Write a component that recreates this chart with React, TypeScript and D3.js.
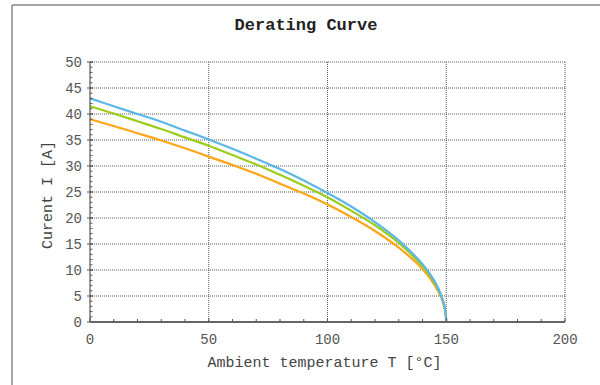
import * as d3 from 'd3';

const TEMPS = [0, 10, 20, 30, 40, 50, 60, 70, 80, 90, 100, 110, 120, 130, 140, 145, 148, 149.5, 150];
const BLUE = [43, 41.5, 40.0, 38.5, 36.8, 35.1, 33.3, 31.4, 29.4, 27.2, 24.8, 22.2, 19.2, 15.7, 11.1, 7.9, 5.0, 2.5, 0];
const GREEN = [41.5, 40.1, 38.6, 37.1, 35.5, 33.9, 32.1, 30.3, 28.3, 26.2, 24.0, 21.4, 18.6, 15.2, 10.7, 7.6, 4.8, 2.4, 0];
const ORANGE = [39, 37.7, 36.3, 34.9, 33.4, 31.8, 30.2, 28.5, 26.6, 24.7, 22.6, 20.2, 17.5, 14.3, 10.2, 7.2, 4.6, 2.3, 0];

const X_TICKS = [0, 50, 100, 150, 200];
const Y_TICKS = [0, 5, 10, 15, 20, 25, 30, 35, 40, 45, 50];

const SERIES = [
  { name: 'orange', values: ORANGE, color: '#ffa516' },
  { name: 'green', values: GREEN, color: '#9ccc1c' },
  { name: 'blue', values: BLUE, color: '#5cb6e6' },
];

const FONT = '"Liberation Mono", "DejaVu Sans Mono", monospace';

export default function App() {
  const W = 600;
  const H = 385;
  const margin = { left: 90, right: 35, top: 62, bottom: 63 };
  const innerW = W - margin.left - margin.right;
  const innerH = H - margin.top - margin.bottom;

  const x = d3.scaleLinear().domain([0, 200]).range([0, innerW]);
  const y = d3.scaleLinear().domain([0, 50]).range([innerH, 0]);

  const minorY = d3.range(0, 51, 1);
  const minorX = d3.range(0, 201, 10);

  const line = d3
    .line<number>()
    .x((_, i) => x(TEMPS[i]))
    .y(d => y(d))
    .curve(d3.curveCatmullRom.alpha(0.5));

  return (
    <svg width={W} height={H} style={{ position: 'absolute', left: 0, top: 0, background: '#fff' }}>
      {/* outer frame */}
      <line x1={12} x2={12} y1={5} y2={H} stroke="#888" strokeWidth={1.5} />
      <line x1={12} x2={W} y1={5} y2={5} stroke="#888" strokeWidth={1.5} />

      <text x={306} y={30} textAnchor="middle" fontFamily={FONT} fontWeight={700} fontSize={17} fill="#222">
        Derating Curve
      </text>

      <g transform={`translate(${margin.left},${margin.top})`}>
        {/* grid */}
        {Y_TICKS.filter(t => t > 0).map(t => (
          <line key={'gy' + t} x1={0} x2={innerW} y1={y(t)} y2={y(t)} stroke="#555" strokeDasharray="1 1" />
        ))}
        {X_TICKS.filter(t => t > 0).map(t => (
          <line key={'gx' + t} x1={x(t)} x2={x(t)} y1={0} y2={innerH} stroke="#555" strokeDasharray="1 1" />
        ))}

        {/* curves */}
        {SERIES.map(s => (
          <path key={s.name} d={line(s.values) ?? ''} fill="none" stroke={s.color} strokeWidth={2.2} />
        ))}

        {/* y axis */}
        <line x1={0} x2={0} y1={0} y2={innerH} stroke="#555" strokeWidth={1.2} />
        {minorY.map(t => (
          <line key={'my' + t} x1={0} x2={t % 5 === 0 ? 3 : 2.5} y1={y(t)} y2={y(t)} stroke="#555" />
        ))}
        {Y_TICKS.map(t => (
          <g key={'ty' + t}>
            <line x1={-3} x2={3} y1={y(t)} y2={y(t)} stroke="#555" />
            <text x={-8} y={y(t)} dy="0.35em" textAnchor="end" fontFamily={FONT} fontSize={14} fill="#555">
              {t}
            </text>
          </g>
        ))}

        {/* x axis */}
        <line x1={0} x2={innerW} y1={innerH} y2={innerH} stroke="#666" strokeWidth={2} />
        {minorX.map(t => (
          <line key={'mx' + t} x1={x(t)} x2={x(t)} y1={innerH} y2={innerH - (t % 50 === 0 ? 4 : 3)} stroke="#555" />
        ))}
        {X_TICKS.map(t => (
          <text key={'tx' + t} x={x(t)} y={innerH + 22} textAnchor="middle" fontFamily={FONT} fontSize={14} fill="#555">
            {t}
          </text>
        ))}

        <text x={x(100) - 3} y={innerH + 45} textAnchor="middle" fontFamily={FONT} fontSize={15} fill="#444">
          Ambient temperature T [°C]
        </text>
        <text
          transform={`translate(${-38},${innerH / 2 + 3}) rotate(-90)`}
          textAnchor="middle"
          fontFamily={FONT}
          fontSize={15}
          fill="#444"
        >
          Curent I [A]
        </text>
      </g>
    </svg>
  );
}
